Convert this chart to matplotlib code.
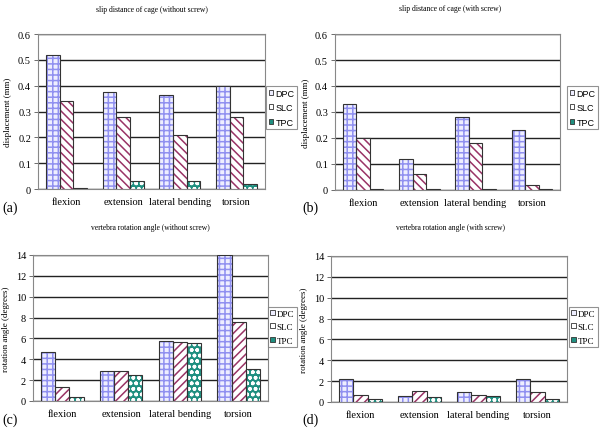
import matplotlib
matplotlib.use("Agg")
import matplotlib.pyplot as plt
import numpy as np
from matplotlib.patches import Patch

categories = ["flexion", "extension", "lateral bending", "torsion"]
series = ["DPC", "SLC", "TPC"]

a_dpc = [0.52, 0.375, 0.365, 0.40]
a_slc = [0.34, 0.28, 0.21, 0.28]
a_tpc = [0.005, 0.03, 0.03, 0.018]

b_dpc = [0.33, 0.12, 0.28, 0.23]
b_slc = [0.20, 0.06, 0.18, 0.02]
b_tpc = [0.002, 0.002, 0.005, 0.002]

c_dpc = [4.7, 2.9, 5.8, 14.0]
c_slc = [1.3, 2.85, 5.7, 7.6]
c_tpc = [0.4, 2.45, 5.6, 3.1]

d_dpc = [2.2, 0.6, 0.95, 2.2]
d_slc = [0.7, 1.1, 0.7, 1.0]
d_tpc = [0.3, 0.45, 0.55, 0.3]

titles = ["slip distance of cage (without screw)",
          "slip distance of cage (with screw)",
          "vertebra rotation angle (without screw)",
          "vertebra rotation angle (with screw)"]
ylabels = ["displacement (mm)", "displacement (mm)",
           "rotation angle (degrees)", "rotation angle (degrees)"]
panel_labels = ["(a)", "(b)", "(c)", "(d)"]
yticks_ab = [0, 0.1, 0.2, 0.3, 0.4, 0.5, 0.6]
ytick_labels_ab = ["0", "0.1", "0.2", "0.3", "0.4", "0.5", "0.6"]
yticks_cd = [0, 2, 4, 6, 8, 10, 12, 14]

plt.rcParams['hatch.linewidth'] = 1.1
serif = "Liberation Serif"
sans = "Liberation Sans"

fig = plt.figure(figsize=(6.0, 4.31), dpi=100)
fig.patch.set_facecolor("white")

W, H = 600.0, 431.0
def ax_rect(l, r, t, b):
    return [l / W, 1 - b / H, (r - l) / W, (b - t) / H]

rects = [ax_rect(38, 265, 35, 190), ax_rect(335, 560, 35, 191),
         ax_rect(33, 268, 256, 402), ax_rect(331, 567, 257, 403)]
legend_pos = [(297, 87), (598, 87), (297, 308), (598, 308)]
label_pos = [(2, 208), (302, 208), (2, 420), (302, 420)]
title_pos = [(152, 10), (450, 9), (150, 228), (450, 228)]

data = [(a_dpc, a_slc, a_tpc), (b_dpc, b_slc, b_tpc),
        (c_dpc, c_slc, c_tpc), (d_dpc, d_slc, d_tpc)]

styles = [
    dict(face="#EEEEFF", hcol="#9090F0", hatch="+++"),
    dict(face="white", hcol="#993366", hatch="\\\\\\\\"),
    dict(face="#1F8F80", hcol="white", hatch="ooo"),
]

x = np.arange(len(categories))
bw = 0.24

for i in range(4):
    ax = fig.add_axes(rects[i])
    ax.set_facecolor("white")
    vals = data[i]
    for j, v in enumerate(vals):
        st = dict(styles[j])
        if i >= 2 and j == 1:
            st["hatch"] = "////"
        pos = x + (j - 1) * bw
        ax.bar(pos, v, bw, color=st["face"], edgecolor=st["hcol"],
               hatch=st["hatch"], linewidth=0, zorder=3)
        ax.bar(pos, v, bw, fill=False, edgecolor="#333333",
               linewidth=0.8, zorder=4)
    if i < 2:
        ax.set_ylim(0, 0.6)
        ax.set_yticks(yticks_ab)
        ax.set_yticklabels(ytick_labels_ab)
    else:
        ax.set_ylim(0, 14)
        ax.set_yticks(yticks_cd)
    ax.set_xlim(-0.5, 3.5)
    ax.set_xticks(x)
    ax.set_xticklabels(categories, fontfamily=serif, fontsize=7.5)
    for lab in ax.get_yticklabels():
        lab.set_fontfamily(serif)
        lab.set_fontsize(7.5)
    ax.tick_params(axis="x", length=0, pad=6)
    ax.tick_params(axis="y", length=3, width=0.6, color="#555555", pad=2)
    ax.yaxis.grid(True, color="#222222", linewidth=1.0, zorder=0)
    ax.set_axisbelow(True)
    for sp in ax.spines.values():
        sp.set_color("#888888")
        sp.set_linewidth(0.8)
    ax.set_ylabel(ylabels[i], fontfamily=serif, fontsize=6.5, labelpad=4)

    handles = []
    for j in range(3):
        st = styles[j]
        handles.append(Patch(facecolor=st["face"], edgecolor="#333333",
                             linewidth=0.6, label=series[j]))
    lx, ly = legend_pos[i]
    fam = sans if i < 2 else serif
    leg = fig.legend(handles=handles, loc="upper right",
                     bbox_to_anchor=(lx / W, 1 - ly / H),
                     prop={"family": fam, "size": 6.5},
                     frameon=True, fancybox=False, handlelength=0.5,
                     handleheight=0.5, handletextpad=0.2,
                     borderpad=0.3, labelspacing=0.6, borderaxespad=0)
    leg.get_frame().set_edgecolor("#777777")
    leg.get_frame().set_linewidth(0.8)

    tx, ty = title_pos[i]
    fig.text(tx / W, 1 - ty / H, titles[i], ha="center", va="center",
             fontfamily=serif, fontsize=5.5)
    px, py = label_pos[i]
    fig.text(px / W, 1 - py / H, panel_labels[i], ha="left", va="center",
             fontfamily=serif, fontsize=10)

fig.savefig("out.png", dpi=100, facecolor="white")
